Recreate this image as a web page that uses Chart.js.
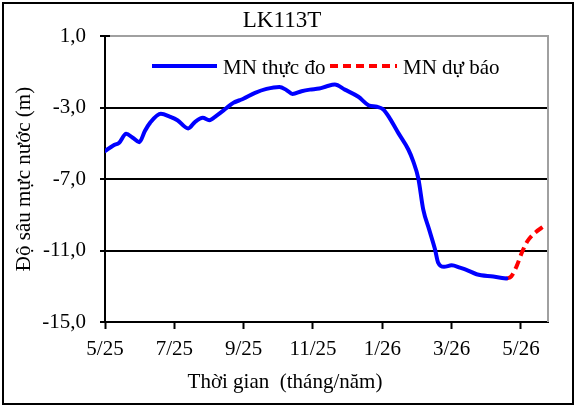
<!DOCTYPE html>
<html><head><meta charset="utf-8">
<script src="https://cdn.jsdelivr.net/npm/chart.js@4.4.1/dist/chart.umd.min.js"></script>
<style>html,body{margin:0;padding:0;background:#fff;}</style>
</head><body>
<canvas id="c" width="576" height="406"></canvas>
<script>
const chartTitle = 'LK113T';
const xAxisTitle = 'Thời gian  (tháng/năm)';
const yAxisTitle = 'Độ sâu mực nước (m)';
const seriesNames = ['MN thực đo', 'MN dự báo'];
const xTickValues = [0, 2, 4, 6, 8, 10, 12];
const xTickLabels = ['5/25', '7/25', '9/25', '11/25', '1/26', '3/26', '5/26'];
const yTickValues = [-15, -11, -7, -3, 1];
const xMin = 0, xMax = 12.78, yMin = -15, yMax = 1;

// months since 5/2025
const observedMonth = [0.00, 0.24, 0.41, 0.61, 0.80, 0.99, 1.15, 1.30, 1.61, 1.88, 2.09, 2.40, 2.60, 2.82, 3.01, 3.22, 3.51, 3.70, 3.89, 3.99, 4.33, 4.66, 5.03, 5.24, 5.41, 5.67, 5.91, 6.18, 6.40, 6.63, 6.92, 7.31, 7.60, 7.84, 8.03, 8.22, 8.46, 8.75, 8.89, 9.04, 9.18, 9.35, 9.52, 9.61, 9.78, 10.00, 10.24, 10.51, 10.72, 11.20, 11.58];
const observedDepth = [-5.44, -5.12, -4.97, -4.47, -4.69, -4.94, -4.32, -3.86, -3.35, -3.52, -3.71, -4.17, -3.80, -3.58, -3.71, -3.45, -3.02, -2.74, -2.59, -2.51, -2.18, -1.96, -1.85, -2.03, -2.24, -2.09, -2.00, -1.94, -1.81, -1.72, -2.00, -2.40, -2.87, -2.96, -3.11, -3.62, -4.42, -5.35, -6.00, -6.98, -8.70, -9.82, -10.93, -11.68, -11.91, -11.83, -11.96, -12.15, -12.33, -12.46, -12.57];
const forecastMonth = [11.58, 11.72, 11.87, 12.03, 12.18, 12.38, 12.69];
const forecastDepth = [-12.57, -12.45, -11.90, -11.10, -10.50, -10.05, -9.60];

const FONT = 'Liberation Serif, "Times New Roman", serif';
const BLUE = '#0000FF', RED = '#FF0000';

const toPts = (xs, ys) => xs.map((x, i) => ({x, y: ys[i]}));

const overlay = {
  id: 'overlay',
  beforeDraw(chart) {
    const ctx = chart.ctx;
    ctx.save();
    ctx.fillStyle = '#fff';
    ctx.fillRect(0, 0, chart.width, chart.height);
    ctx.restore();
  },
  beforeDatasetsDraw(chart) {
    const {ctx, chartArea: a} = chart;
    ctx.save();
    ctx.strokeStyle = '#a0a0a0';
    ctx.lineWidth = 2;
    ctx.beginPath();
    ctx.moveTo(a.left, a.top);
    ctx.lineTo(a.right, a.top);
    ctx.lineTo(a.right, a.bottom);
    ctx.stroke();
    ctx.restore();
  },
  afterDraw(chart) {
    const ctx = chart.ctx;
    const a = chart.chartArea;
    const ys = chart.scales.y;
    ctx.save();
    // inner half of crossing y ticks
    ctx.strokeStyle = '#000';
    ctx.lineWidth = 2;
    ys.ticks.forEach(t => {
      const py = Math.round(ys.getPixelForValue(t.value));
      ctx.beginPath(); ctx.moveTo(a.left, py); ctx.lineTo(a.left + 5, py); ctx.stroke();
    });
    // outer frame
    ctx.strokeRect(3, 3, 570, 401);
    ctx.fillStyle = '#000';
    ctx.font = '23px ' + FONT;
    ctx.textAlign = 'center';
    ctx.textBaseline = 'middle';
    ctx.fillText(chartTitle, 282, 21);
    ctx.font = '21px ' + FONT;
    ctx.fillText(xAxisTitle, 285, 382);
    const ly = 66;
    ctx.lineWidth = 4;
    ctx.strokeStyle = BLUE;
    ctx.setLineDash([]);
    ctx.beginPath(); ctx.moveTo(152, ly); ctx.lineTo(217, ly); ctx.stroke();
    ctx.strokeStyle = RED;
    ctx.setLineDash([8, 5]);
    ctx.beginPath(); ctx.moveTo(330, ly); ctx.lineTo(397, ly); ctx.stroke();
    ctx.setLineDash([]);
    ctx.textAlign = 'left';
    ctx.fillText(seriesNames[0], 223, ly + 2);
    ctx.fillText(seriesNames[1], 403, ly + 2);
    ctx.restore();
  }
};

new Chart(document.getElementById('c'), {
  type: 'line',
  data: {
    datasets: [
      {label: seriesNames[0], data: toPts(observedMonth, observedDepth), borderColor: BLUE, borderWidth: 4, pointRadius: 0, cubicInterpolationMode: 'monotone', borderJoinStyle: 'round', borderCapStyle: 'round', fill: false},
      {label: seriesNames[1], data: toPts(forecastMonth, forecastDepth), borderColor: RED, borderWidth: 4, borderDash: [9, 5], pointRadius: 0, cubicInterpolationMode: 'monotone', fill: false}
    ]
  },
  options: {
    responsive: false,
    animation: false,
    devicePixelRatio: 1,
    layout: {padding: {top: 36, right: 28, bottom: 0, left: 0}},
    plugins: {legend: {display: false}, tooltip: {enabled: false}},
    scales: {
      x: {
        type: 'linear', min: xMin, max: xMax,
        afterFit(s) { s.height = 84; },
        afterBuildTicks(s) { s.ticks = xTickValues.map(v => ({value: v})); },
        ticks: {autoSkip: false, maxRotation: 0, padding: 8, color: '#000', font: {family: FONT, size: 21},
          callback: (v) => xTickLabels[xTickValues.indexOf(v)] ?? ''},
        grid: {drawOnChartArea: false, drawTicks: true, tickLength: 7, tickColor: '#000', tickWidth: 2},
        border: {display: true, color: '#000', width: 2}
      },
      y: {
        type: 'linear', min: yMin, max: yMax,
        afterFit(s) { s.width = 105; },
        afterBuildTicks(s) { s.ticks = yTickValues.map(v => ({value: v})); },
        ticks: {padding: 14, color: '#000', font: {family: FONT, size: 21},
          callback: (v) => v.toFixed(1).replace('.', ',')},
        grid: {color: (c) => (c.tick && c.tick.value > yMin && c.tick.value < yMax) ? '#000' : 'rgba(0,0,0,0)',
          lineWidth: 2, drawTicks: true, tickLength: 5, tickColor: '#000', tickWidth: 2},
        border: {display: true, color: '#000', width: 2},
        title: {display: true, text: yAxisTitle, color: '#000', font: {family: FONT, size: 21}, padding: {top: 12, bottom: 0}}
      }
    }
  },
  plugins: [overlay]
});
</script>
</body></html>
